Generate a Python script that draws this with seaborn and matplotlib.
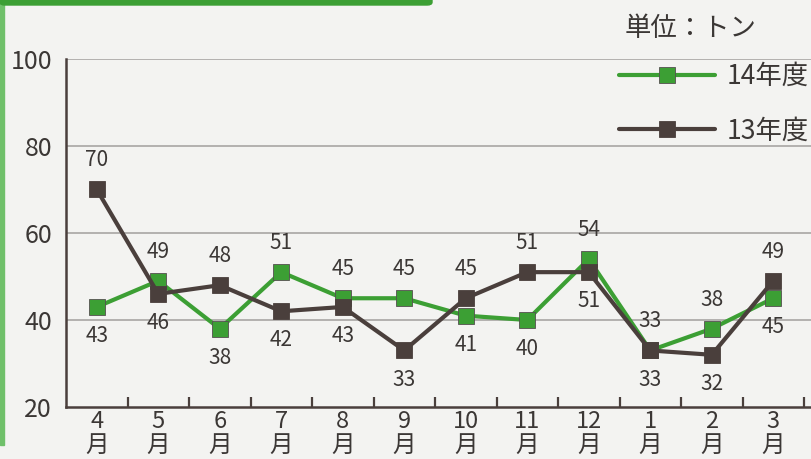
import numpy as np
import pandas as pd
import matplotlib.pyplot as plt
import seaborn as sns
from matplotlib.patches import FancyBboxPatch, Rectangle

months = ["4", "5", "6", "7", "8", "9", "10", "11", "12", "1", "2", "3"]
fy14 = [43, 49, 38, 51, 45, 45, 41, 40, 54, 33, 38, 45]
fy13 = [70, 46, 48, 42, 43, 33, 45, 51, 51, 33, 32, 49]
series_names = ["14年度", "13年度"]
unit_label = "単位：トン"
yticks = [20, 40, 60, 80, 100]

# label above (+1) or below (-1) the marker
place14 = [-1, 1, -1, 1, 1, 1, -1, -1, 1, 1, 1, -1]
place13 = [1, -1, 1, -1, -1, -1, 1, 1, -1, -1, -1, 1]

GREEN = "#3c9f34"
BROWN = "#4a3f3c"
TEXT = "#3b3735"
GRID = "#aeaca9"
BG = "#f3f3f1"

sns.set_theme(style="white")
plt.rcParams["font.family"] = ["Noto Sans CJK JP", "DejaVu Sans"]

df = pd.DataFrame({"pos": np.arange(len(months)), "fy14": fy14, "fy13": fy13})

fig = plt.figure(figsize=(8.12, 4.59), dpi=100, facecolor=BG)
ax = fig.add_axes([66 / 812, 52 / 459, 1 - 66 / 812, 348 / 459])
ax.set_facecolor(BG)

# green frame of the page
fig.patches.append(Rectangle((0, 14 / 459), 4 / 812, 1, transform=fig.transFigure,
                             color="#6fc06a", zorder=0))
fig.patches.append(FancyBboxPatch((0, 1 - 5 / 459), 432 / 812, 10 / 459,
                                  boxstyle="round,pad=0,rounding_size=0.006",
                                  transform=fig.transFigure, color=GREEN, zorder=0))

for y in yticks[1:]:
    ax.axhline(y, color=GRID, lw=1.3, zorder=1)

sns.lineplot(data=df, x="pos", y="fy14", ax=ax, color=GREEN, lw=3, marker="s",
             markersize=11, markerfacecolor=GREEN, markeredgecolor="#555050",
             markeredgewidth=0.6, label=series_names[0], zorder=3)
sns.lineplot(data=df, x="pos", y="fy13", ax=ax, color=BROWN, lw=3, marker="s",
             markersize=11, markerfacecolor=BROWN, markeredgecolor=BROWN,
             markeredgewidth=0.6, label=series_names[1], zorder=4)

for vals, places in [(fy14, place14), (fy13, place13)]:
    for i, (v, p) in enumerate(zip(vals, places)):
        ax.annotate(str(v), (i, v), xytext=(0, 21 * p), textcoords="offset points",
                    ha="center", va="center", fontsize=15, color=TEXT)

ax.set_xlim(-0.5, 11.63)
ax.set_ylim(20, 100)
ax.set_yticks(yticks)
ax.set_xticks(df["pos"])
ax.set_xticklabels([m + "\n月" for m in months], linespacing=1.05)
ax.set_xticks(np.arange(0.5, 11.6, 1), minor=True)
ax.tick_params(axis="x", which="major", length=0, pad=2, labelsize=17, labelcolor=TEXT)
ax.tick_params(axis="x", which="minor", direction="in", length=7, width=1.6,
               color=BROWN, bottom=True)
ax.tick_params(axis="y", length=0, pad=10, labelsize=18, labelcolor=TEXT)
ax.set_xlabel("")
ax.set_ylabel("")

for side in ["top", "right"]:
    ax.spines[side].set_visible(False)
for side in ["left", "bottom"]:
    ax.spines[side].set_color(BROWN)
    ax.spines[side].set_linewidth(1.8)

ax.legend(loc="upper right", bbox_to_anchor=(1.017, 1.034), frameon=False, fontsize=19,
          handlelength=3.64, handletextpad=0.45, labelspacing=1.05, labelcolor=TEXT,
          borderaxespad=0.2)

fig.text(625 / 812, 1 - 28 / 459, unit_label, fontsize=19, color=TEXT, va="center")

fig.savefig("out.png", dpi=100, facecolor=BG)
